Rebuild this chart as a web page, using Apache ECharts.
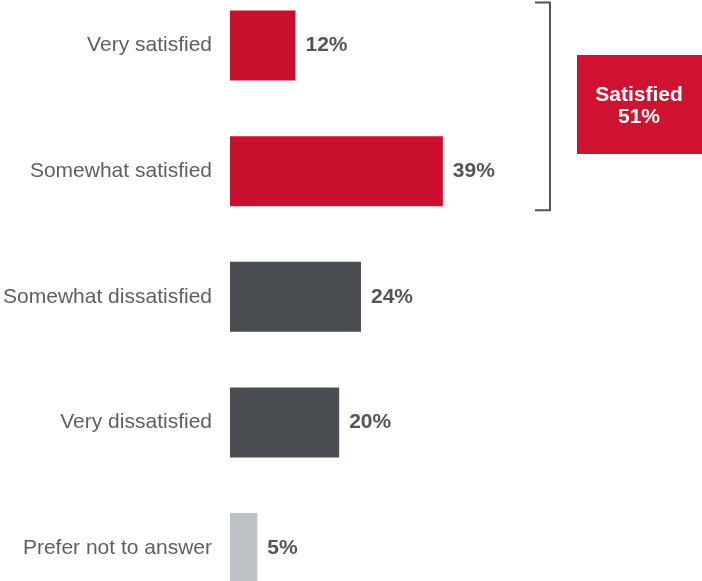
<!DOCTYPE html>
<html>
<head>
<meta charset="utf-8">
<script src="https://cdn.jsdelivr.net/npm/echarts@6/dist/echarts.min.js"></script>
<style>html,body{margin:0;padding:0;background:#fff}#c{width:702px;height:581px}</style>
</head>
<body>
<div id="c"></div>
<script>
var categories = ['Very satisfied', 'Somewhat satisfied', 'Somewhat dissatisfied', 'Very dissatisfied', 'Prefer not to answer'];
var values = [12, 39, 24, 20, 5];
var barColors = ['#c8102e', '#c8102e', '#4a4d52', '#4a4d52', '#bcc1c6'];
var summaryLabel = 'Satisfied';
var summaryValue = 51;

var chart = echarts.init(document.getElementById('c'));
var option = {
  animation: false,
  grid: { left: 230, width: 436.6, top: 45.5, height: 502.5, containLabel: false },
  xAxis: { type: 'value', min: 0, max: 80, show: false },
  yAxis: {
    type: 'category', data: categories, inverse: true, boundaryGap: false,
    axisLine: { show: false }, axisTick: { show: false },
    axisLabel: { margin: 18, fontFamily: 'Liberation Sans, Arial, sans-serif', fontSize: 21, color: '#5f5f5f' }
  },
  series: [{
    type: 'bar',
    barWidth: 70,
    data: values.map(function (v, i) { return { value: v, itemStyle: { color: barColors[i] } }; }),
    label: {
      show: true, position: 'right', distance: 10,
      formatter: '{c}%',
      fontFamily: 'Liberation Sans, Arial, sans-serif', fontSize: 21, fontWeight: 'bold', color: '#555555'
    }
  }]
};
chart.setOption(option);

var yTop = chart.convertToPixel({ yAxisIndex: 0 }, categories[0]) - 43;
var yBot = chart.convertToPixel({ yAxisIndex: 0 }, categories[1]) + 39;
chart.setOption({
  graphic: [
    { type: 'polyline', shape: { points: [[535, yTop], [550, yTop], [550, yBot], [535, yBot]] },
      style: { stroke: '#555', lineWidth: 2, fill: null } },
    { type: 'rect', shape: { x: 577, y: 55, width: 130, height: 99 }, style: { fill: '#cf1230' } },
    { type: 'text', x: 639, y: 106, style: {
        text: summaryLabel + '\n' + summaryValue + '%', fill: '#fff', align: 'center', verticalAlign: 'middle',
        font: 'bold 21px "Liberation Sans", Arial, sans-serif', lineHeight: 22 } }
  ]
});
</script>
</body>
</html>
